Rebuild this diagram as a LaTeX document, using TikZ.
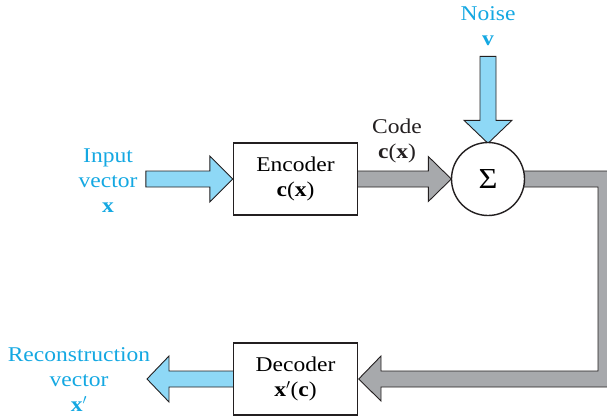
\documentclass[tikz,border=0pt]{standalone}
\usepackage{fontspec}
\setmainfont{Liberation Serif}[FakeStretch=1.12]
\usetikzlibrary{calc}
\definecolor{lblblue}{RGB}{20,168,226}
\definecolor{arrblue}{RGB}{142,216,246}
\definecolor{arrgray}{RGB}{167,169,172}
\definecolor{ink}{RGB}{35,31,32}
\pgfdeclarelayer{background}
\pgfsetlayers{background,main}
\begin{document}
\begin{tikzpicture}[x=1pt,y=-1pt,
  lbl/.style={text=lblblue,align=center,font=\fontsize{21}{25}\selectfont,inner sep=0pt},
  blk/.style={draw=ink,line width=1.4pt,fill=white,align=center,font=\fontsize{21}{25}\selectfont,inner sep=0pt},
  bluearr/.style={draw=ink,line width=0.9pt,fill=arrblue,line join=miter},
  grayarr/.style={draw=ink,line width=0.9pt,fill=arrgray,line join=miter}]
\useasboundingbox (0,0) rectangle (607,416);
% blocks
\node[blk,minimum width=124pt,minimum height=72pt] (enc) at (295.5,179) {Encoder\\\textbf{c}(\textbf{x})};
\node[blk,minimum width=124pt,minimum height=72pt] (dec) at (295.5,379) {Decoder\\\textbf{x}$'$(\textbf{c})};
\node[blk,circle,minimum size=73pt,font=\fontsize{29}{29}\selectfont] (sum) at (488,179) {Σ};
% labels
\node[lbl] (inlbl) at (108,181) {Input\\vector\\\textbf{x}};
\node[lbl] (noiselbl) at (488,26) {Noise\\\textbf{v}};
\node[lbl,text=ink] (codelbl) at (397,141) {Code\\\textbf{c}(\textbf{x})};
\node[lbl] (outlbl) at (79,380) {Reconstruction\\vector\\\textbf{x}$'$};
% arrows
\begin{pgfonlayer}{background}
\draw[bluearr] (enc.west) -- ++(-23,-23) -- ++(0,15) -- ++(-64,0) -- ++(0,16) -- ++(64,0) -- ++(0,15) -- cycle;
\draw[grayarr] ($(sum.west)+(0.5,0)$) -- ++(-23,-22.5) -- ++(0,14.5) -- ($(enc.east)+(-2,-8)$) -- ++(0,16) -- ($(sum.west)+(-22.5,8)$) -- ++(0,14.5) -- cycle;
\draw[bluearr] ($(sum.north)+(0,1.5)$) -- ++(-24,-23) -- ++(16,0) -- ++(0,-64) -- ++(16,0) -- ++(0,64) -- ++(16,0) -- cycle;
\draw[grayarr] ($(sum.east)+(-4,-8)$) -- (614,171) -- (614,387) -- (381,387) -- (381,401) -- ($(dec.east)+(0.5,0)$) -- (381,356) -- (381,371) -- (598,371) -- (598,187) -- ($(sum.east)+(-4,8)$) -- cycle;
\draw[bluearr] ($(dec.west)+(2,-8)$) -- (169,371) -- (169,356) -- (147,379) -- (169,402) -- (169,387) -- ($(dec.west)+(2,8)$) -- cycle;
\end{pgfonlayer}
\end{tikzpicture}
\end{document}
